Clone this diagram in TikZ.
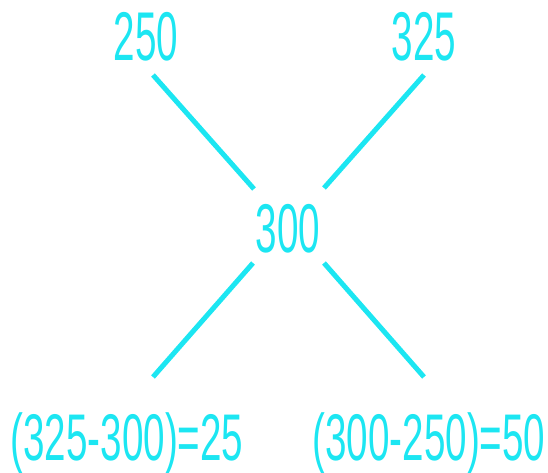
\documentclass[tikz,border=0pt]{standalone}
\usepackage{fontspec}
\setmainfont[FakeStretch=0.56]{Liberation Sans}
\newfontfamily\axnarrow[FakeStretch=0.585]{Liberation Sans}
\usetikzlibrary{positioning}
\definecolor{axCyan}{HTML}{1CE6F2}
\tikzset{
  ax value/.style={text=axCyan, inner sep=0pt, anchor=base,
    font=\fontsize{69}{69}\selectfont},
  ax result/.style={ax value, font=\axnarrow\fontsize{66}{66}\selectfont},
  ax line/.style={draw=axCyan, line width=5pt}
}
\begin{document}
\begin{tikzpicture}[x=1pt,y=-1pt]
  \useasboundingbox (0,0) rectangle (548,473);

  \node[ax value] (low) at (146,61) {250};
  \node[ax value] (high) at (424,61) {325};
  \node[ax value] (mean) at (288,252) {300};
  \node[ax result] (diffA) at (127,460) {(325-300)=25};
  \node[ax result] (diffB) at (429,460) {(300-250)=50};

  % arms of the cross
  \coordinate (ulA) at (153,75);  \coordinate (ulB) at (254,189);
  \coordinate (urA) at (424,75);  \coordinate (urB) at (324,188);
  \coordinate (llA) at (253,263); \coordinate (llB) at (153,377);
  \coordinate (lrA) at (324,263); \coordinate (lrB) at (424,377);
  \draw[ax line] (ulA) -- (ulB);
  \draw[ax line] (urA) -- (urB);
  \draw[ax line] (llA) -- (llB);
  \draw[ax line] (lrA) -- (lrB);
\end{tikzpicture}
\end{document}
